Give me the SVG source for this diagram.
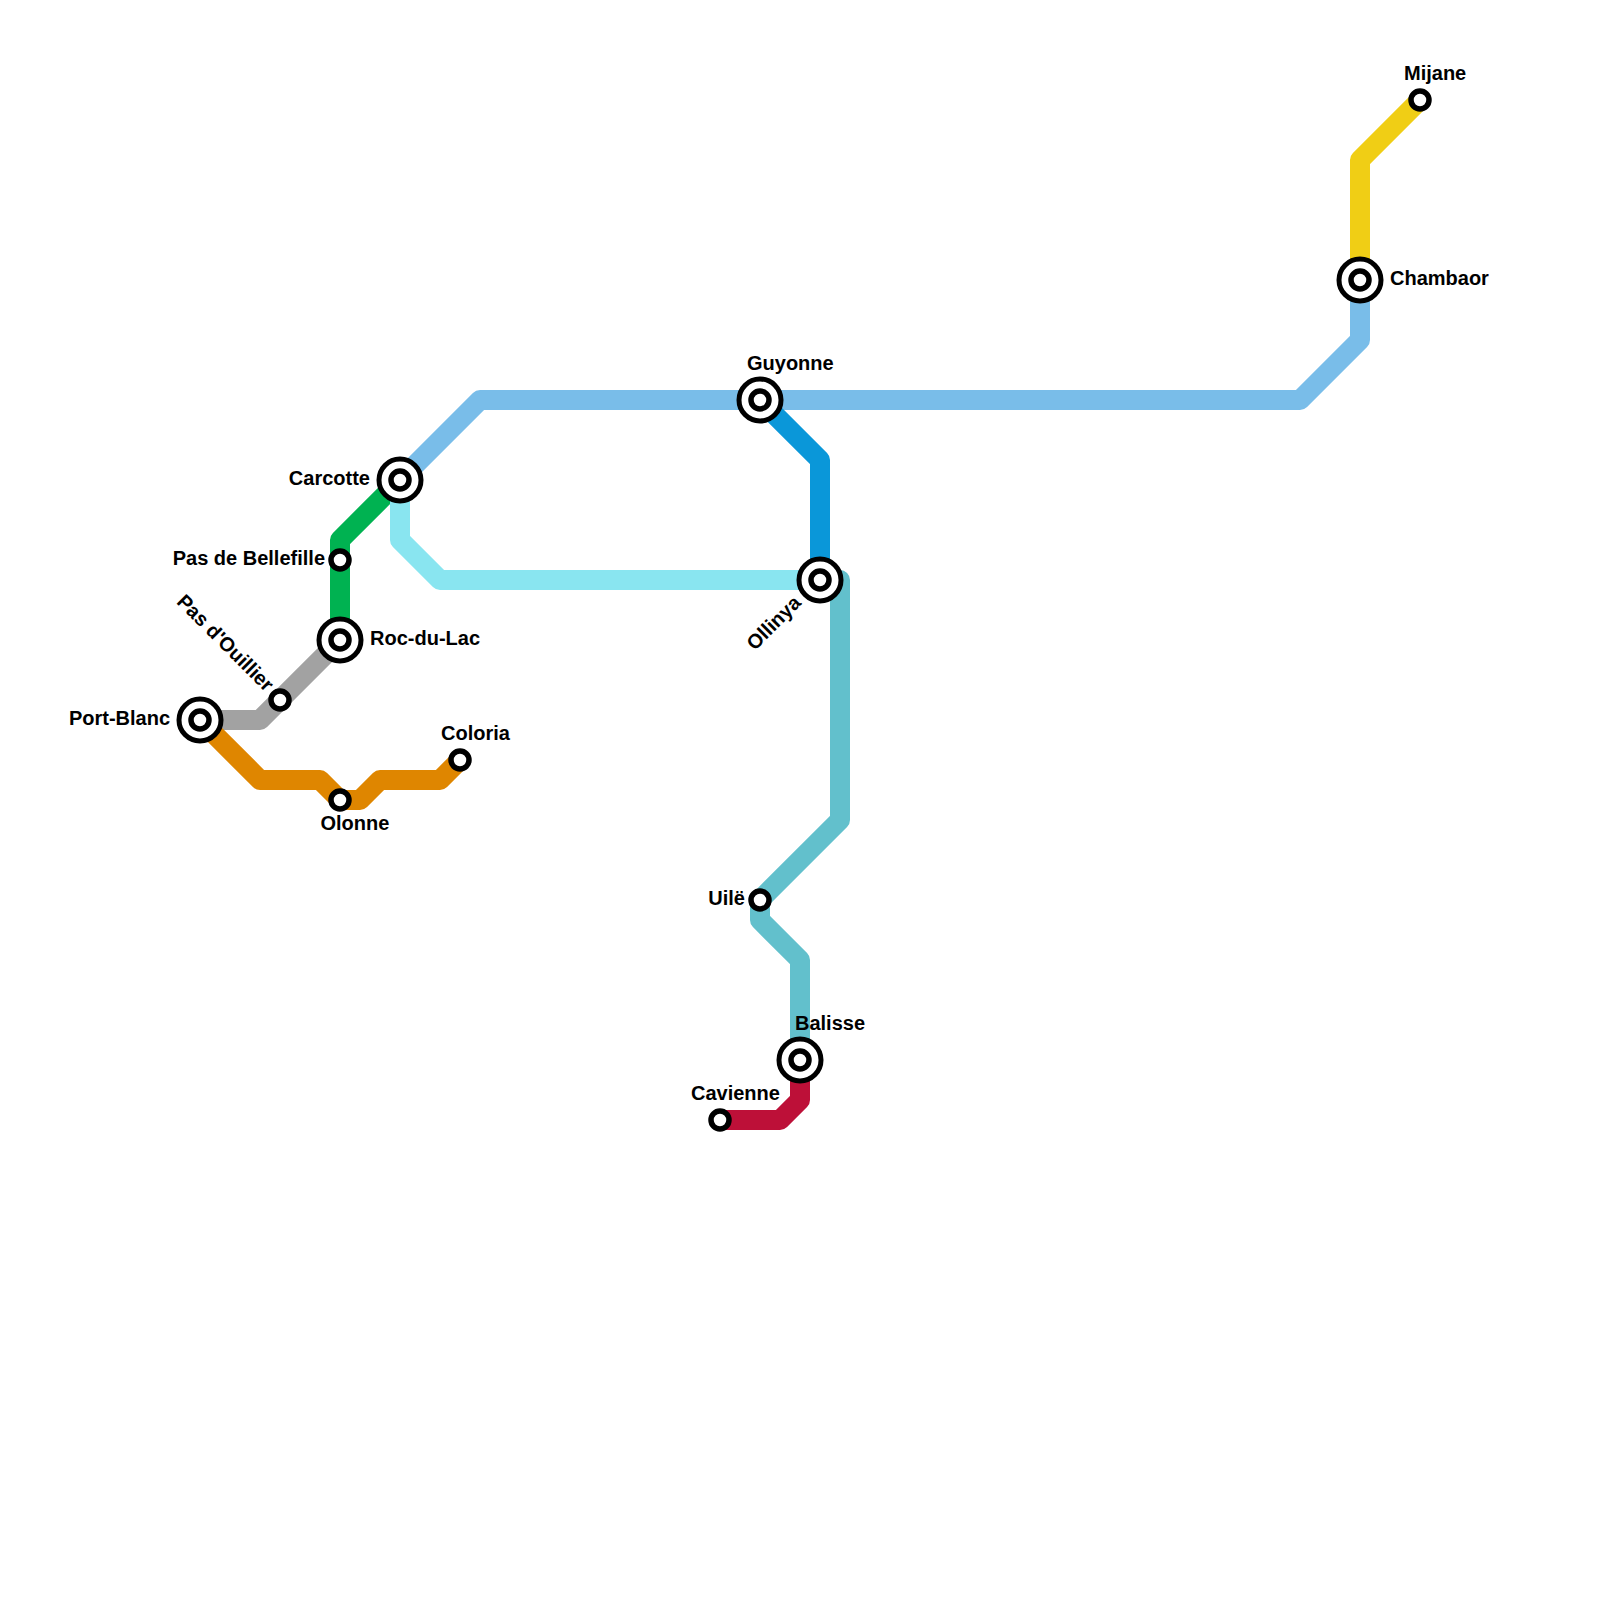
<svg xmlns="http://www.w3.org/2000/svg" width="1600" height="1600" viewBox="0 0 1600 1600">
<style>
.l{fill:none;stroke-width:20;stroke-linejoin:round;stroke-linecap:butt}
.o{fill:#fff;stroke:#000;stroke-width:5.5}
.r{fill:#fff;stroke:#000;stroke-width:5}
text{font-family:"Liberation Sans",Arial,sans-serif;font-size:20px;font-weight:700;fill:#000}
.e{text-anchor:end}
</style>
<rect width="1600" height="1600" fill="#fff"/>
<g id="connectors">
<path class="l" stroke="#79bde9" d="M400 480L480 400H1300L1360 340V280"/>
<path class="l" stroke="#00b251" d="M400 480L340 540V640"/>
<path class="l" stroke="#89e5f0" d="M400 480V540L440 580H820"/>
<path class="l" stroke="#0a97d9" d="M760 400L820 460V580"/>
<path class="l" stroke="#62c0cc" d="M820 580H840V820L760 900V920L800 960V1060"/>
<path class="l" stroke="#a2a2a2" d="M340 640L260 720H200"/>
<path class="l" stroke="#df8600" d="M200 720L260 780H320L340 800H360L380 780H440L460 760"/>
<path class="l" stroke="#bd1038" d="M720 1120H780L800 1100V1060"/>
<path class="l" stroke="#f0ce15" d="M1420 100L1360 160V280"/>
</g>
<g id="mijane"><circle class="o" cx="1420" cy="100" r="9"/><text x="1404" y="80">Mijane</text></g>
<g id="chambaor"><circle class="r" cx="1360" cy="280" r="21"/><circle class="o" cx="1360" cy="280" r="9"/><text x="1390" y="285">Chambaor</text></g>
<g id="guyonne"><circle class="r" cx="760" cy="400" r="21"/><circle class="o" cx="760" cy="400" r="9"/><text x="747" y="370">Guyonne</text></g>
<g id="carcotte"><circle class="r" cx="400" cy="480" r="21"/><circle class="o" cx="400" cy="480" r="9"/><text class="e" x="370" y="485">Carcotte</text></g>
<g id="pas-de-bellefille"><circle class="o" cx="340" cy="560" r="9"/><text class="e" x="325" y="565">Pas de Bellefille</text></g>
<g id="ollinya"><circle class="r" cx="820" cy="580" r="21"/><circle class="o" cx="820" cy="580" r="9"/><text class="e" transform="translate(802 604) rotate(-45)">Ollinya</text></g>
<g id="roc-du-lac"><circle class="r" cx="340" cy="640" r="21"/><circle class="o" cx="340" cy="640" r="9"/><text x="370" y="645">Roc-du-Lac</text></g>
<g id="pas-d-ouillier"><circle class="o" cx="280" cy="700" r="9"/><text class="e" transform="translate(265.5 692.5) rotate(45)">Pas d'Ouillier</text></g>
<g id="port-blanc"><circle class="r" cx="200" cy="720" r="21"/><circle class="o" cx="200" cy="720" r="9"/><text class="e" x="170" y="725">Port-Blanc</text></g>
<g id="coloria"><circle class="o" cx="460" cy="760" r="9"/><text x="441" y="740">Coloria</text></g>
<g id="olonne"><circle class="o" cx="340" cy="800" r="9"/><text x="320.5" y="830">Olonne</text></g>
<g id="uile"><circle class="o" cx="760" cy="900" r="9"/><text class="e" x="745" y="905">Uilë</text></g>
<g id="balisse"><circle class="r" cx="800" cy="1060" r="21"/><circle class="o" cx="800" cy="1060" r="9"/><text x="795" y="1030">Balisse</text></g>
<g id="cavienne"><circle class="o" cx="720" cy="1120" r="9"/><text x="691" y="1100">Cavienne</text></g>
</svg>
